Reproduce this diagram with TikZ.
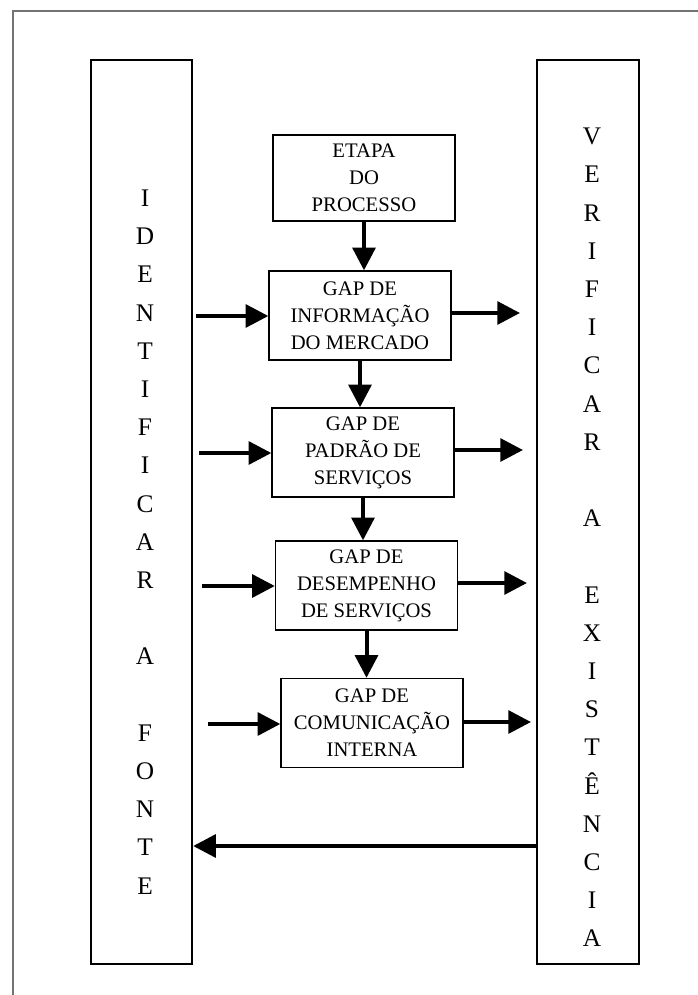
\documentclass[tikz,border=0pt]{standalone}
\usepackage{fontspec}
\setmainfont{Liberation Serif}
\usetikzlibrary{arrows.meta}
\begin{document}
\begin{tikzpicture}[x=0.75pt,y=-0.75pt,
  pillar/.style={draw, line width=1.5pt, minimum width=76pt, minimum height=678pt, inner sep=0pt},
  column/.style={align=center, inner sep=0pt, font=\fontsize{19}{28.65}\selectfont},
  gapbox/.style={draw, line width=1pt, minimum width=136.5pt, minimum height=66.75pt, inner sep=2pt,
    align=center, font=\fontsize{15.5}{20.25}\selectfont},
  arr/.style={line width=3pt, -{Triangle[length=17pt,width=17pt]}},
  frame/.style={draw=black!55, line width=0.8pt}
]
\useasboundingbox (0,0) rectangle (698,995);

% page frame (open at right and bottom)
\draw[frame] (698,11) -| (13,995);

% side pillars
\node[pillar] (vleft)  at (141.5,512) {};
\node[pillar] (vright) at (588,512) {};
\node[column] (tleft) at (145,542)
  {I\\D\\E\\N\\T\\I\\F\\I\\C\\A\\R\\~\\A\\~\\F\\O\\N\\T\\E};
\node[column] (tright) at (592,537.5)
  {V\\E\\R\\I\\F\\I\\C\\A\\R\\~\\A\\~\\E\\X\\I\\S\\T\\Ê\\N\\C\\I\\A};

% process steps
\node[gapbox, minimum height=64.5pt] (etapa) at (364,178) {ETAPA\\DO\\PROCESSO};
\node[gapbox] (gap1) at (360,315.5) {GAP DE\\INFORMAÇÃO\\DO MERCADO};
\node[gapbox] (gap2) at (363,452.5) {GAP DE\\PADRÃO DE\\SERVIÇOS};
\node[gapbox] (gap3) at (366.5,585.5) {GAP DE\\DESEMPENHO\\DE SERVIÇOS};
\node[gapbox] (gap4) at (372,723) {GAP DE\\COMUNICAÇÃO\\INTERNA};

% vertical flow
\draw[arr] (etapa.south) -- (etapa.south |- gap1.north);
\draw[arr] (gap1.south) -- (gap1.south |- gap2.north);
\draw[arr] (gap2.south) -- (gap2.south |- gap3.north);
\draw[arr] (gap3.south) -- (gap3.south |- gap4.north);

% inputs from the left
\coordinate (in1) at (196,316);
\coordinate (in2) at (199,453);
\coordinate (in3) at (202,586);
\coordinate (in4) at (208,724);
\draw[arr] (in1) -- (gap1.west |- in1);
\draw[arr] (in2) -- (gap2.west |- in2);
\draw[arr] (in3) -- (gap3.west |- in3);
\draw[arr] (in4) -- (gap4.west |- in4);

% outputs to the right
\coordinate (out1) at (520,313);
\coordinate (out2) at (523,450);
\coordinate (out3) at (527,583);
\coordinate (out4) at (531,722);
\draw[arr] (gap1.east |- out1) -- (out1);
\draw[arr] (gap2.east |- out2) -- (out2);
\draw[arr] (gap3.east |- out3) -- (out3);
\draw[arr] (gap4.east |- out4) -- (out4);

% feedback
\coordinate (fb) at (0,846);
\draw[arr] (vright.west |- fb) -- (vleft.east |- fb);
\end{tikzpicture}
\end{document}
